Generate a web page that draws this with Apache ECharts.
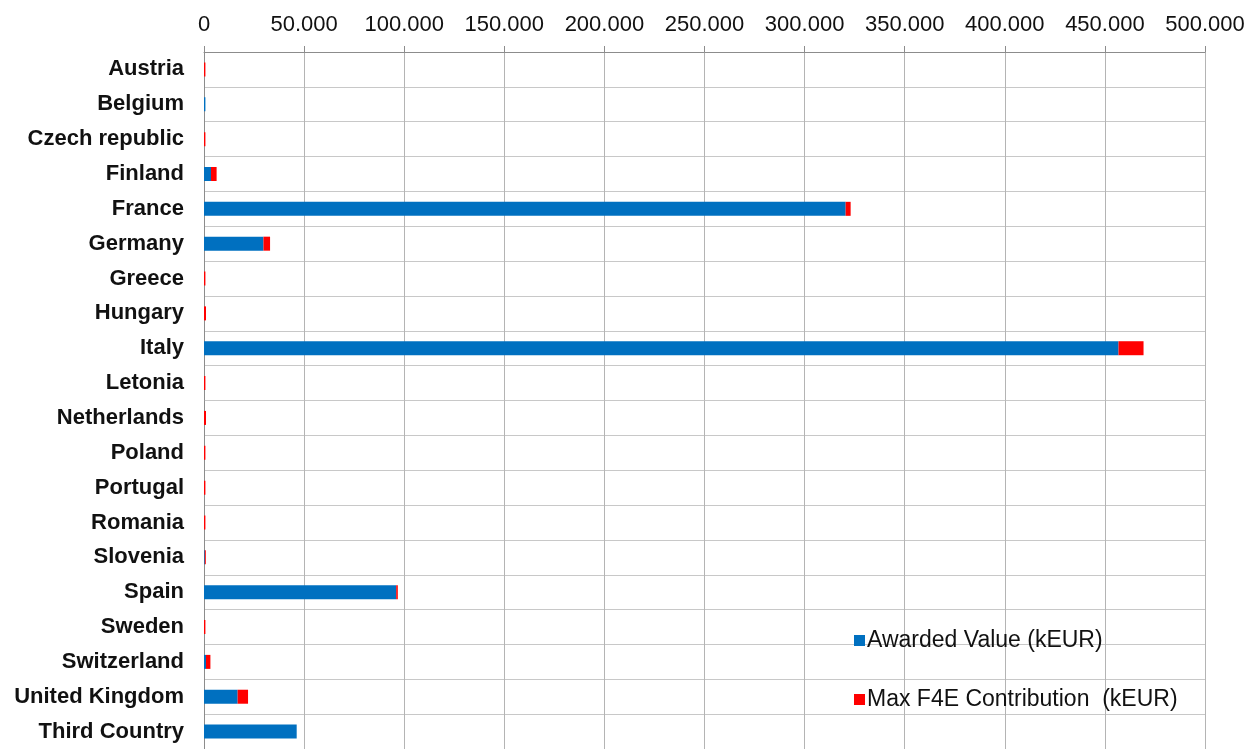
<!DOCTYPE html>
<html>
<head>
<meta charset="utf-8">
<script src="https://cdn.jsdelivr.net/npm/echarts@6/dist/echarts.min.js"></script>
<style>
html,body{margin:0;padding:0;background:#fff;}
#chart{width:1250px;height:749px;}
</style>
</head>
<body>
<div id="chart"></div>
<script>
const categories = ['Austria','Belgium','Czech republic','Finland','France','Germany','Greece','Hungary','Italy','Letonia','Netherlands','Poland','Portugal','Romania','Slovenia','Spain','Sweden','Switzerland','United Kingdom','Third Country'];
const awardedValue = [0, 700, 0, 3500, 320500, 29700, 0, 0, 456800, 0, 0, 0, 0, 0, 400, 96000, 0, 1000, 16800, 46300];
const maxF4EContribution = [700, 0, 700, 2800, 2500, 3300, 700, 1000, 12500, 700, 1000, 700, 700, 700, 500, 800, 700, 2200, 5200, 0];
const xTickLabels = ['0','50.000','100.000','150.000','200.000','250.000','300.000','350.000','400.000','450.000','500.000'];
const seriesNames = ['Awarded Value (kEUR)', 'Max F4E Contribution  (kEUR)'];

const chart = echarts.init(document.getElementById('chart'), null, {renderer:'canvas'});
const font = 'Liberation Sans, Arial, sans-serif';
chart.setOption({
  animation: false,
  backgroundColor: '#ffffff',
  grid: {left: 204, right: 45, top: 52, height: 702, containLabel: false},
  legend: {
    orient: 'vertical',
    left: 849,
    top: 624,
    itemWidth: 11,
    itemHeight: 11,
    itemGap: 36,
    icon: 'rect',
    textStyle: {fontFamily: font, fontSize: 23, color: '#111', padding: [0,0,0,-3]},
    data: seriesNames
  },
  xAxis: {
    type: 'value',
    position: 'top',
    min: 0,
    max: 500000,
    interval: 50000,
    axisLine: {show: true, lineStyle: {color: '#8c8c8c', width: 1}},
    axisTick: {show: true, inside: false, length: 6, lineStyle: {color: '#8c8c8c'}},
    axisLabel: {
      fontFamily: font, fontSize: 22, color: '#111', margin: 16,
      formatter: function(v){ return xTickLabels[Math.round(v/50000)]; }
    },
    splitLine: {show: true, lineStyle: {color: '#b4b4b4', width: 1}}
  },
  yAxis: {
    type: 'category',
    inverse: true,
    data: categories,
    axisLine: {show: true, lineStyle: {color: '#8c8c8c', width: 1}},
    axisTick: {show: false},
    axisLabel: {fontFamily: font, fontSize: 22, fontWeight: 'bold', color: '#111', margin: 20},
    splitLine: {show: true, lineStyle: {color: '#c8c8c8', width: 1}}
  },
  series: [
    {name: seriesNames[0], type: 'bar', stack: 'total', data: awardedValue, barWidth: 14, itemStyle: {color: '#0070C0'}},
    {name: seriesNames[1], type: 'bar', stack: 'total', data: maxF4EContribution, barWidth: 14, itemStyle: {color: '#FF0000'}}
  ]
});
</script>
</body>
</html>
